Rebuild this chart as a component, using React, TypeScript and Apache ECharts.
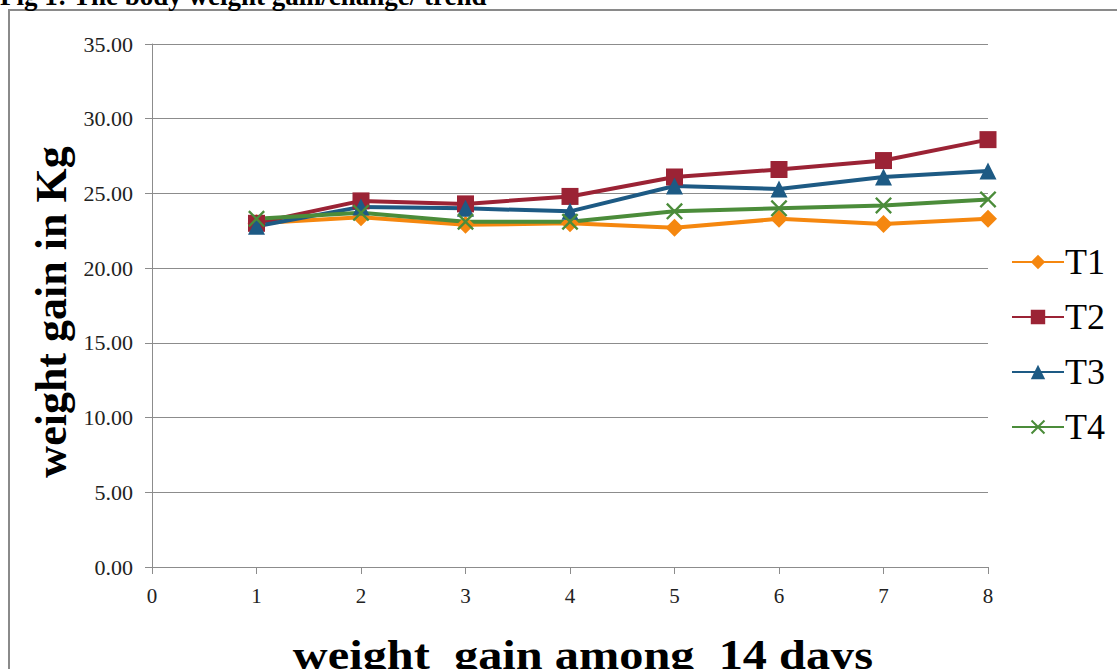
import React, { useEffect, useRef } from "react";
import * as echarts from "echarts";

const days = [1, 2, 3, 4, 5, 6, 7, 8];
const t1 = [23.0, 23.4, 22.9, 23.0, 22.7, 23.3, 22.96, 23.3];
const t2 = [23.0, 24.5, 24.3, 24.8, 26.1, 26.6, 27.2, 28.6];
const t3 = [22.8, 24.1, 24.0, 23.8, 25.5, 25.3, 26.1, 26.5];
const t4 = [23.3, 23.7, 23.1, 23.1, 23.8, 24.0, 24.2, 24.6];
const seriesNames = ["T1", "T2", "T3", "T4"];
const title = "Fig 1: The body weight gain/change/ trend";
const xTitle = "weight  gain among  14 days";
const yTitle = "weight gain in Kg";

const FONT = "'Liberation Serif', 'Times New Roman', serif";
const COLORS = ["#F5870F", "#9B2335", "#1D5A84", "#4B8C3A"];
const X_PATH =
  "path://M2,0 L10,8 L18,0 L20,2 L12,10 L20,18 L18,20 L10,12 L2,20 L0,18 L8,10 L0,2 Z";

export default function App() {
  const ref = useRef<HTMLDivElement>(null);
  useEffect(() => {
    if (!ref.current) return;
    const chart = echarts.init(ref.current, null, { renderer: "svg" });
    const all = [t1, t2, t3, t4];
    const symbols = ["diamond", "rect", "triangle", X_PATH];
    const sizes = [18, 17, 17, 17];
    chart.setOption({
      animation: false,
      backgroundColor: "#ffffff",
      grid: { left: 152, right: 129, top: 44, bottom: 102 },
      legend: {
        orient: "vertical",
        left: 1006,
        top: 239,
        itemWidth: 52,
        itemHeight: 18,
        itemGap: 19,
        data: seriesNames,
        textStyle: { fontFamily: FONT, fontSize: 36, color: "#000", lineHeight: 36, padding: [0, 0, 0, -4] },
      },
      xAxis: {
        type: "value",
        min: 0,
        max: 8,
        interval: 1,
        splitLine: { show: false },
        axisLine: { show: true, lineStyle: { color: "#8c8c8c", width: 1 } },
        axisTick: { show: true, length: 7, lineStyle: { color: "#8c8c8c" } },
        axisLabel: { fontFamily: FONT, fontSize: 21, color: "#222", margin: 18 },
      },
      yAxis: {
        type: "value",
        min: 0,
        max: 35,
        interval: 5,
        splitLine: { show: true, lineStyle: { color: "#8c8c8c", width: 1 } },
        axisLine: { show: true, lineStyle: { color: "#8c8c8c", width: 1 } },
        axisTick: { show: true, length: 7, lineStyle: { color: "#8c8c8c" } },
        axisLabel: {
          fontFamily: FONT,
          fontSize: 22,
          color: "#222",
          margin: 19,
          formatter: (v: number) => v.toFixed(2),
        },
      },
      graphic: [
        {
          type: "rect",
          shape: { x: 9, y: 10, width: 1200, height: 700 },
          style: { fill: "none", stroke: "#8a8a8a", lineWidth: 2 },
          silent: true,
        },
        {
          type: "text",
          x: 0,
          y: -4,
          style: {
            text: title,
            font: `bold 27px ${FONT}`,
            fill: "#000",
            align: "left",
            verticalAlign: "middle",
          },
        },
        {
          type: "text",
          x: 583,
          y: 654,
          scaleX: 1.125,
          style: {
            text: xTitle,
            font: `bold 43px ${FONT}`,
            fill: "#000",
            align: "center",
            verticalAlign: "middle",
          },
        },
        {
          type: "text",
          x: 51,
          y: 312,
          rotation: Math.PI / 2,
          style: {
            text: yTitle,
            font: `bold 44px ${FONT}`,
            fill: "#000",
            align: "center",
            verticalAlign: "middle",
          },
        },
      ],
      series: all.map((vals, i) => ({
        name: seriesNames[i],
        type: "line",
        data: days.map((d, j) => [d, vals[j]]),
        symbol: symbols[i],
        symbolSize: sizes[i],
        showAllSymbol: true,
        lineStyle: { color: COLORS[i], width: 4 },
        itemStyle: { color: COLORS[i] },
        emphasis: { disabled: true },
      })),
    });
    return () => chart.dispose();
  }, []);
  return (
    <div
      ref={ref}
      style={{ position: "absolute", left: 0, top: 0, width: 1117, height: 669 }}
    />
  );
}
